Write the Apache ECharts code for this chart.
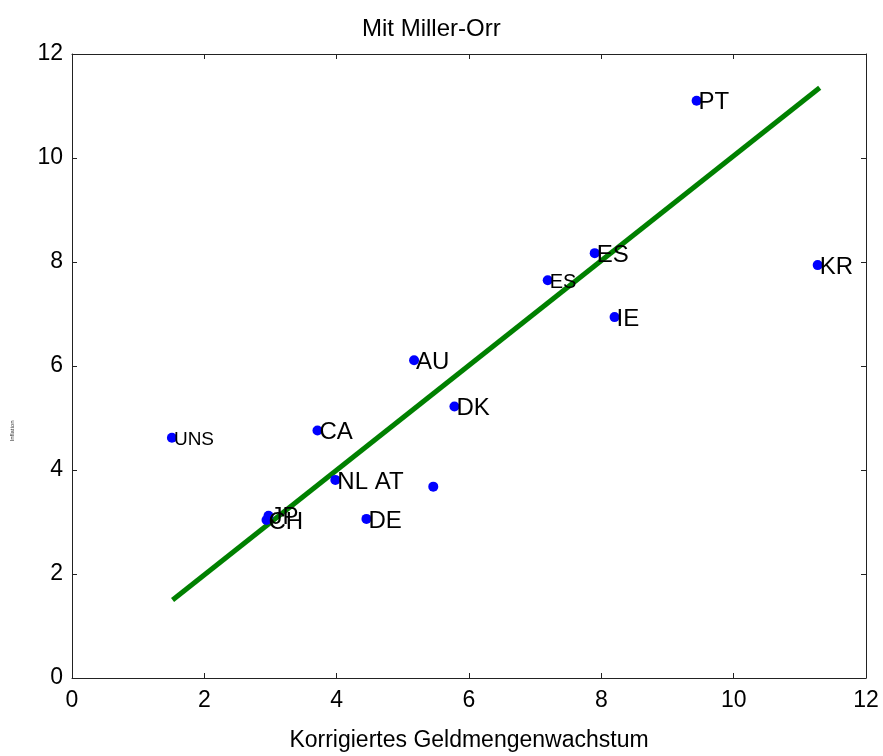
<!DOCTYPE html>
<html><head><meta charset="utf-8">
<script src="https://cdn.jsdelivr.net/npm/echarts@6/dist/echarts.min.js"></script>
<style>html,body{margin:0;padding:0;background:#fff}#c{width:883px;height:756px}</style>
</head><body><div id="c"></div>
<script>
const countries = ['UNS','CA','AU','DK','NL AT','','JP','CH','DE','ES','ES','IE','PT','KR'];
const moneyGrowth = [1.51,3.71,5.17,5.78,3.98,5.46,2.97,2.94,4.45,7.19,7.90,8.20,9.44,11.27];
const inflation = [4.62,4.76,6.11,5.22,3.81,3.68,3.12,3.04,3.06,7.65,8.17,6.94,11.10,7.94];
const labelSizes = [19,24,24,24,24,24,24,24,24,20,24,24,24,24];
const fitX = [1.52,11.30];
const fitY = [1.50,11.35];
const xTicks = [0,2,4,6,8,10,12];
const yTicks = [0,2,4,6,8,10,12];

const font = 'Liberation Sans, Arial, sans-serif';
const chart = echarts.init(document.getElementById('c'));
const axisLine = {show:true, onZero:false, lineStyle:{color:'#222', width:1}};
const tick = {show:true, inside:true, length:5, lineStyle:{color:'#222'}};
chart.setOption({
  animation:false,
  title:{text:'Mit Miller-Orr', left:357, top:12, textStyle:{fontFamily:font, fontSize:24, fontWeight:'normal', color:'#000'}},
  grid:{left:72, right:17, top:54, bottom:78, containLabel:false, outerBoundsMode:'none'},
  xAxis:[
    {type:'value', min:0, max:12, interval:2, position:'bottom', axisLine, axisTick:tick, splitLine:{show:false},
     name:'Korrigiertes Geldmengenwachstum', nameLocation:'middle', nameGap:51,
     nameTextStyle:{fontFamily:font, fontSize:23, color:'#000'},
     axisLabel:{fontFamily:font, fontSize:23, color:'#000', margin:11, formatter:v=>xTicks.includes(v)?String(v):''}},
    {type:'value', min:0, max:12, interval:2, position:'top', axisLine, axisTick:tick, axisLabel:{show:false}, splitLine:{show:false}}
  ],
  yAxis:[
    {type:'value', min:0, max:12, interval:2, position:'left', axisLine, axisTick:tick, splitLine:{show:false},
     name:'Inflation', nameLocation:'middle', nameGap:57, nameRotate:90,
     nameTextStyle:{fontFamily:font, fontSize:6, color:'#333', padding:[0,130,0,0]},
     axisLabel:{fontFamily:font, fontSize:23, color:'#000', margin:9, formatter:v=>yTicks.includes(v)?String(v):''}},
    {type:'value', min:0, max:12, interval:2, position:'right', axisLine, axisTick:tick, axisLabel:{show:false}, splitLine:{show:false}}
  ],
  series:[
    {type:'line', data:fitX.map((x,i)=>[x,fitY[i]]), symbol:'none', lineStyle:{color:'#008000', width:5}, z:2},
    {type:'scatter', symbolSize:10, itemStyle:{color:'#0000ff', opacity:1}, z:3,
     data:moneyGrowth.map((x,i)=>({value:[x,inflation[i]], name:countries[i],
       label:{show:countries[i]!=='', formatter:countries[i], position:'right', distance:0, offset:[-3,2],
              fontFamily:font, fontSize:labelSizes[i], color:'#000'}}))}
  ]
});
</script></body></html>
